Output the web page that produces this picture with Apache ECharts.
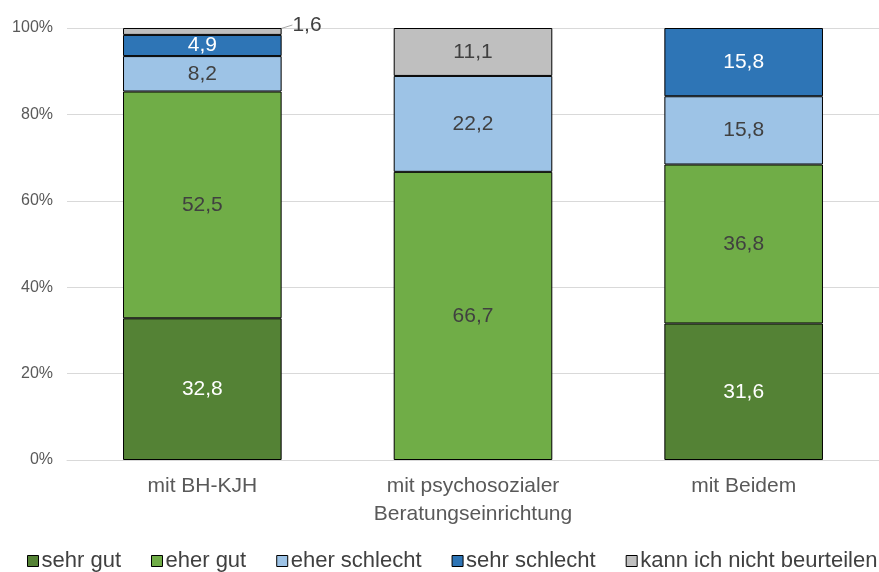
<!DOCTYPE html>
<html><head><meta charset="utf-8">
<script src="https://cdn.jsdelivr.net/npm/echarts@6/dist/echarts.min.js"></script>
<style>html,body{margin:0;padding:0;background:#fff}#c{width:879px;height:572px}</style>
</head><body><div id="c"></div>
<script>
const categories = ['mit BH-KJH', 'mit psychosozialer\nBeratungseinrichtung', 'mit Beidem'];
const seriesNames = ['sehr gut', 'eher gut', 'eher schlecht', 'sehr schlecht', 'kann ich nicht beurteilen'];
const sehrGut = [32.8, null, 31.6];
const eherGut = [52.5, 66.7, 36.8];
const eherSchlecht = [8.2, 22.2, 15.8];
const sehrSchlecht = [4.9, null, 15.8];
const kannNicht = [1.6, 11.1, null];
const yTicks = [0, 20, 40, 60, 80, 100];

const colors = ['#548235', '#70AD47', '#9DC3E6', '#2E75B6', '#BFBFBF'];
const labelColors = ['#ffffff', '#404040', '#404040', '#ffffff', '#404040'];
const values = [sehrGut, eherGut, eherSchlecht, sehrSchlecht, kannNicht];
const FONT = 'Liberation Sans, Arial, sans-serif';

const chart = echarts.init(document.getElementById('c'));
const series = seriesNames.map((name, i) => ({
  name, type: 'bar', stack: 'total', barWidth: '58.6%',
  data: values[i],
  itemStyle: { color: colors[i], borderColor: '#000', borderWidth: 1 },
  label: {
    show: true, position: 'inside', color: labelColors[i], fontSize: 21, fontFamily: FONT,
    formatter: p => (p.value == null ? '' : String(p.value).replace('.', ','))
  },
  labelLine: { show: i === 4, lineStyle: { color: '#a6a6a6', width: 1 } },
  labelLayout: i === 4 ? function (p) {
    if (p.dataIndex === 0) return { x: 307, y: 25, align: 'center', verticalAlign: 'middle' };
    return {};
  } : undefined
}));

chart.setOption({
  animation: false,
  grid: { left: 67, top: 28, width: 814, bottom: 112, containLabel: false },
  legend: {
    left: 27, bottom: 0, width: 1200, padding: 0, itemWidth: 11, itemHeight: 11, itemGap: 30,
    icon: 'rect',
    itemStyle: { borderColor: '#000', borderWidth: 1 },
    textStyle: { fontSize: 22, color: '#404040', fontFamily: FONT, padding: [0, 0, 0, -2] },
    data: seriesNames
  },
  xAxis: {
    type: 'category', data: categories,
    axisLine: { lineStyle: { color: '#d9d9d9', width: 1 } },
    axisTick: { show: false },
    axisLabel: { fontSize: 21, color: '#595959', fontFamily: FONT, margin: 12, lineHeight: 28 }
  },
  yAxis: {
    type: 'value', min: yTicks[0], max: yTicks[yTicks.length - 1], interval: 20,
    axisLine: { show: false }, axisTick: { show: false },
    splitLine: { lineStyle: { color: '#d9d9d9', width: 1 } },
    axisLabel: { fontSize: 16, color: '#595959', fontFamily: FONT, margin: 14, formatter: '{value}%' }
  },
  series
});
</script></body></html>
